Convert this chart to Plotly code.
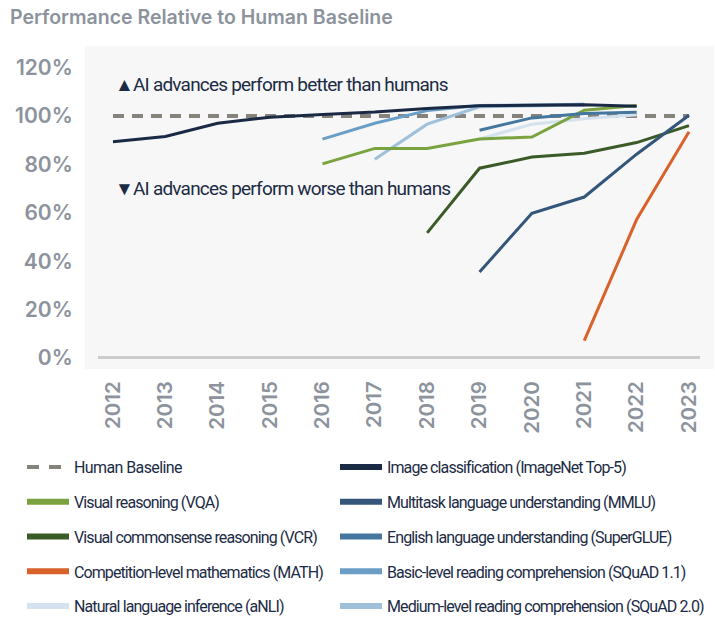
import plotly.graph_objects as go

# years on the x axis
years = [2012, 2013, 2014, 2015, 2016, 2017, 2018, 2019, 2020, 2021, 2022, 2023]

# performance relative to the human baseline, in percent (None = no result)
imagenet = [89.3, 91.5, 97.0, 99.5, 100.6, 101.6, 103.1, 104.2, 104.4, 104.6, 104.0, None]
vqa = [None, None, None, None, 80.2, 86.6, 86.6, 90.5, 91.3, 102.4, 104.3, None]
mmlu = [None, None, None, None, None, None, None, 35.5, 59.8, 66.5, 84.2, 100.3]
vcr = [None, None, None, None, None, None, 51.7, 78.4, 83.0, 84.6, 89.0, 96.0]
superglue = [None, None, None, None, None, None, None, 94.1, 99.2, 101.0, 101.5, None]
math_ = [None, None, None, None, None, None, None, None, None, 7.2, 57.2, 93.5]
squad11 = [None, None, None, None, 90.4, 97.0, 102.2, 104.3, 104.5, 104.8, None, None]
anli = [None, None, None, None, None, None, None, 90.5, 96.6, 98.8, 100.5, None]
squad20 = [None, None, None, None, None, 82.1, 96.6, 103.8, 104.2, 104.5, None, None]
baseline = [100] * len(years)

y_ticks = [0, 20, 40, 60, 80, 100, 120]
y_labels = ['0%', '20%', '40%', '60%', '80%', '100%', '120%']

NAVY = '#1c2b45'
GRAY = '#8c939d'

# name, values, colour, legend column
series = [
    ('Visual reasoning (VQA)', vqa, '#7aa33f', 'legend'),
    ('Visual commonsense reasoning (VCR)', vcr, '#3a5a27', 'legend'),
    ('Competition-level mathematics (MATH)', math_, '#d9622b', 'legend'),
    ('Natural language inference (aNLI)', anli, '#d3e2ee', 'legend'),
    ('Image classification (ImageNet Top-5)', imagenet, '#1a2a44', 'legend2'),
    ('Multitask language understanding (MMLU)', mmlu, '#34567a', 'legend2'),
    ('English language understanding (SuperGLUE)', superglue, '#44779f', 'legend2'),
    ('Basic-level reading comprehension (SQuAD 1.1)', squad11, '#6a9ec6', 'legend2'),
    ('Medium-level reading comprehension (SQuAD 2.0)', squad20, '#9fc0db', 'legend2'),
]


def narrow(text, spacing=-0.9):
    # squeeze the letters, the original uses a condensed face
    return '<span style="letter-spacing:%spx">%s</span>' % (spacing, text)


fig = go.Figure()

# human baseline
fig.add_trace(go.Scatter(x=years, y=baseline, mode='lines', showlegend=False,
                         line=dict(color='#86827c', width=4, dash='11px,8px')))

# draw lightest lines first so the darker ones sit on top
draw_order = ['Natural language inference (aNLI)',
              'Medium-level reading comprehension (SQuAD 2.0)',
              'Basic-level reading comprehension (SQuAD 1.1)',
              'Visual reasoning (VQA)',
              'English language understanding (SuperGLUE)',
              'Visual commonsense reasoning (VCR)',
              'Multitask language understanding (MMLU)',
              'Competition-level mathematics (MATH)',
              'Image classification (ImageNet Top-5)']
lookup = {s[0]: s for s in series}
for name in draw_order:
    _, vals, color, _ = lookup[name]
    fig.add_trace(go.Scatter(x=years, y=vals, mode='lines', showlegend=False,
                             line=dict(color=color, width=3)))

# legend entries (thicker swatches than the plotted lines)
fig.add_trace(go.Scatter(x=[None], y=[None], mode='lines', name=narrow('Human Baseline', -0.6),
                         legend='legend', legendgroup='hb',
                         line=dict(color='#86827c', width=4, dash='12px,10px')))
for name, vals, color, leg in series:
    fig.add_trace(go.Scatter(x=[None], y=[None], mode='lines', name=narrow(name),
                             legend=leg, legendgroup=name,
                             line=dict(color=color, width=6)))

# light grey panel behind the plot
fig.add_shape(type='rect', xref='paper', yref='paper', x0=-0.0216, x1=1.0233, y0=0, y1=1,
              fillcolor='#f7f7f7', line=dict(width=0), layer='below')

fig.add_annotation(x=2012, y=113, xref='x', yref='y', xanchor='left', yanchor='middle',
                   text=narrow('▲AI advances perform better than humans', -0.8), showarrow=False,
                   font=dict(family='Roboto', size=19, color=NAVY))
fig.add_annotation(x=2012, y=70, xref='x', yref='y', xanchor='left', yanchor='middle',
                   text=narrow('▼AI advances perform worse than humans', -0.8), showarrow=False,
                   font=dict(family='Roboto', size=19, color=NAVY))

legend_style = dict(font=dict(family='Roboto', size=16, color=NAVY), bgcolor='rgba(0,0,0,0)',
                    traceorder='grouped', tracegroupgap=11, itemwidth=42,
                    xanchor='left', yanchor='top', itemclick=False)

fig.update_layout(
    width=715, height=618,
    margin=dict(l=98, r=15, t=46, b=249, autoexpand=False),
    paper_bgcolor='white', plot_bgcolor='rgba(0,0,0,0)',
    title=dict(text='Performance Relative to Human Baseline', x=10 / 715, xref='container',
               xanchor='left', y=1 - 17 / 618, yref='container', yanchor='middle',
               font=dict(family='Inter', size=19.5, weight=600, color=GRAY)),
    xaxis=dict(range=[2011.714, 2023.21], tickvals=years, tickangle=-90, showgrid=False,
               zeroline=False, showline=False, ticks='outside', ticklen=3,
               tickcolor='rgba(0,0,0,0)', automargin=False,
               tickfont=dict(family='Inter', size=20.5, weight=600, color=GRAY)),
    yaxis=dict(range=[-4.55, 128.9], tickvals=y_ticks, ticktext=y_labels, showgrid=False,
               zeroline=True, zerolinecolor='#cccccc', zerolinewidth=3, showline=False,
               ticks='outside', ticklen=20, tickcolor='rgba(0,0,0,0)', automargin=False,
               tickfont=dict(family='Inter', size=21, weight=600, color=GRAY)),
    legend=dict(x=(22 - 98) / 602, y=(369 - 450) / 323, **legend_style),
    legend2=dict(x=(335 - 98) / 602, y=(369 - 450) / 323, **legend_style),
)

# the page body has a default 8px margin; drop it so the figure sits at the corner
fig.write_html('out.html', config={'displayModeBar': False},
               post_script="document.body.style.margin='0';")
